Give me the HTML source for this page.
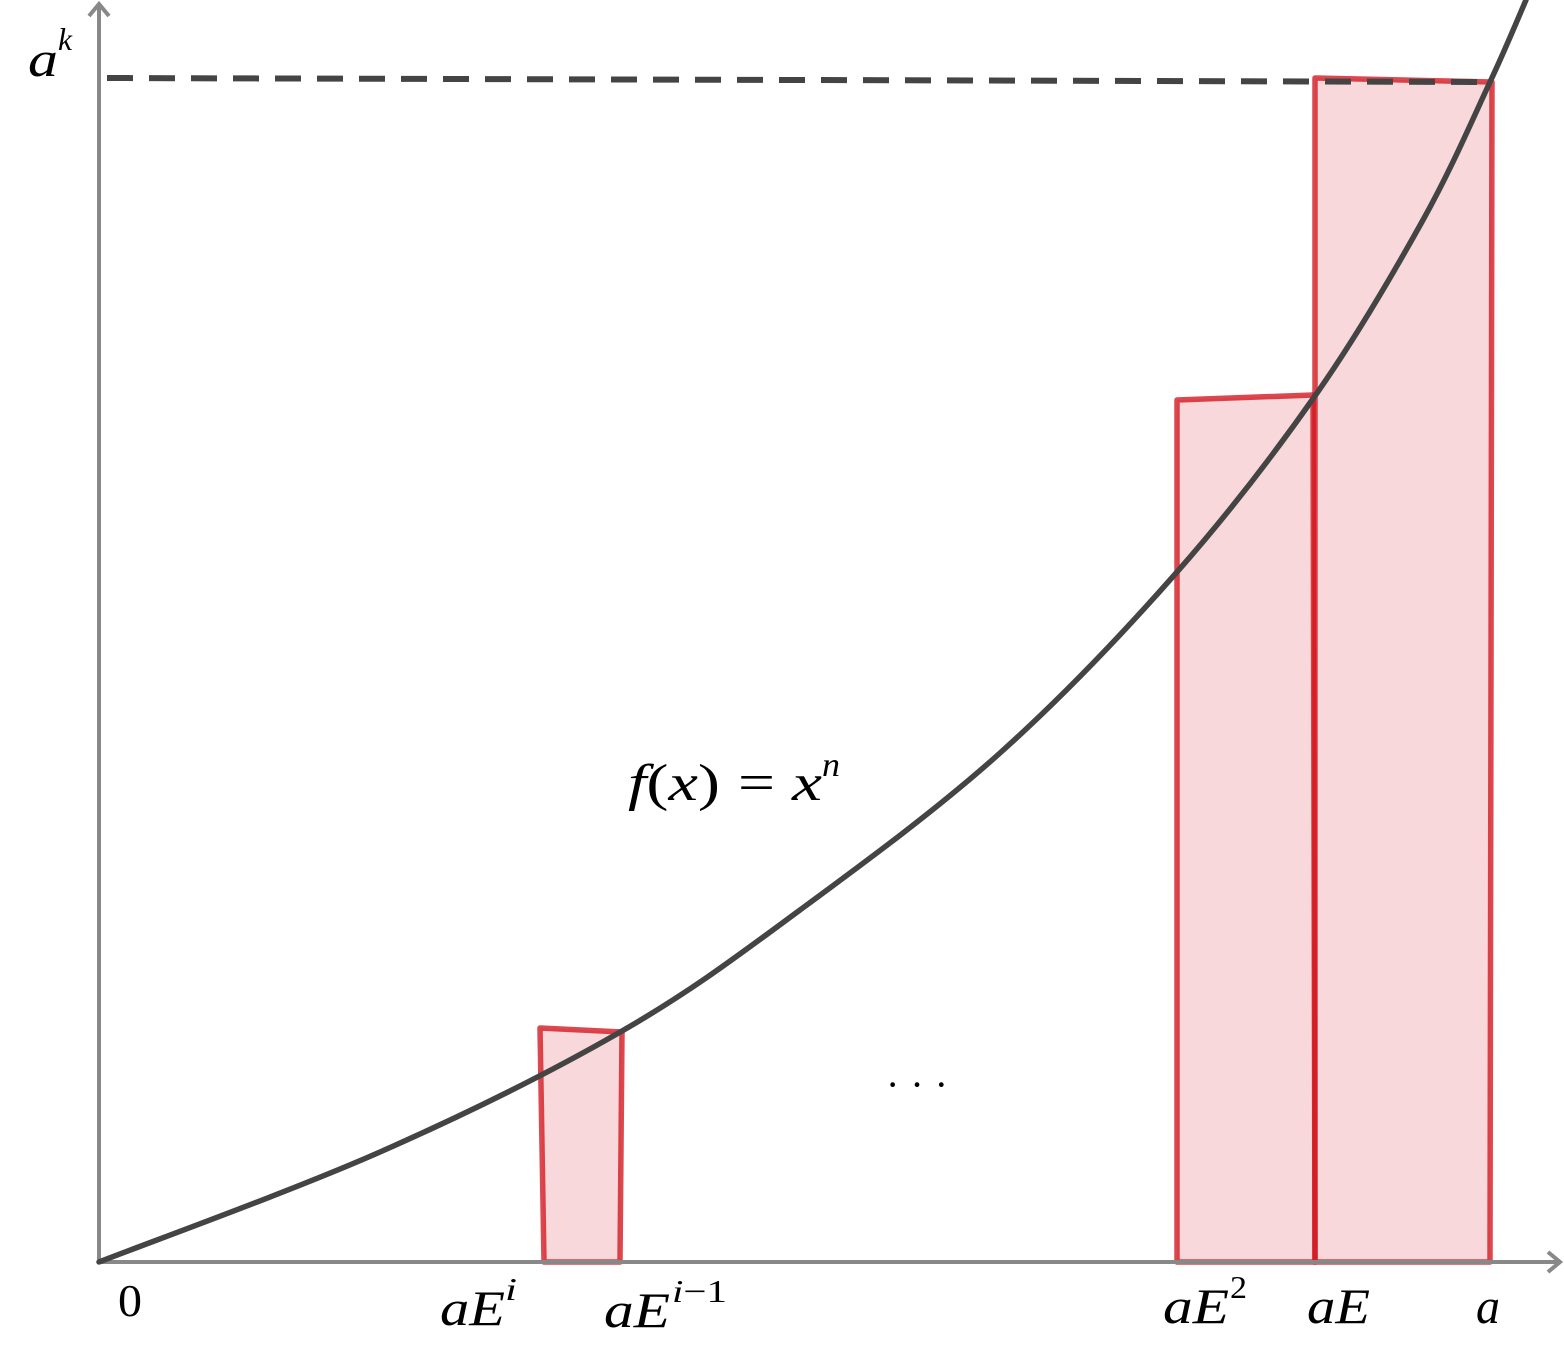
<!DOCTYPE html>
<html><head><meta charset="utf-8"><style>
html,body{margin:0;padding:0;background:#fff}
svg{display:block}
text{font-family:"Liberation Serif",serif;font-style:italic;fill:#000}
</style></head><body>
<svg width="1564" height="1356" viewBox="0 0 1564 1356">
<g id="rects"></g>
<line x1="99" y1="1262" x2="1558" y2="1262" stroke="#888" stroke-width="4"/>
<polyline points="1548,1252 1560,1262 1548,1272" fill="none" stroke="#888" stroke-width="4"/>
<line x1="99" y1="1262" x2="99" y2="6" stroke="#888" stroke-width="4"/>
<polyline points="89,16 99,4 109,16" fill="none" stroke="#888" stroke-width="4"/>
<line x1="107" y1="78" x2="1492" y2="82" stroke="#444" stroke-width="6" stroke-dasharray="26,16"/>
<path id="curve" fill="none" stroke="#444" stroke-width="5.5" stroke-linecap="round"/>
<g>
<text x="28" y="76" font-size="50" textLength="30" lengthAdjust="spacingAndGlyphs">a</text>
<text x="58" y="50" font-size="32" textLength="14" lengthAdjust="spacingAndGlyphs">k</text>
</g>
<text x="118" y="1316" font-size="46" style="font-style:normal" textLength="24" lengthAdjust="spacingAndGlyphs">0</text>
<g>
<text x="440" y="1325" font-size="50" textLength="65" lengthAdjust="spacingAndGlyphs">aE</text>
<text x="505" y="1300" font-size="32" textLength="12" lengthAdjust="spacingAndGlyphs">i</text>
</g>
<g>
<text x="604" y="1327" font-size="50" textLength="66" lengthAdjust="spacingAndGlyphs">aE</text>
<text x="672" y="1302" font-size="32" textLength="55" lengthAdjust="spacingAndGlyphs">i<tspan style="font-style:normal">−1</tspan></text>
</g>
<g>
<text x="1163" y="1323" font-size="50" textLength="66" lengthAdjust="spacingAndGlyphs">aE</text>
<text x="1230" y="1298" font-size="32" style="font-style:normal" textLength="17" lengthAdjust="spacingAndGlyphs">2</text>
</g>
<text x="1307" y="1323" font-size="50" textLength="63" lengthAdjust="spacingAndGlyphs">aE</text>
<text x="1476" y="1323" font-size="50" textLength="24" lengthAdjust="spacingAndGlyphs">a</text>
<g>
<text x="628" y="800" font-size="52" textLength="92" lengthAdjust="spacingAndGlyphs">f<tspan style="font-style:normal">(</tspan>x<tspan style="font-style:normal">)</tspan></text>
<text x="738" y="800" font-size="52" style="font-style:normal" textLength="37" lengthAdjust="spacingAndGlyphs">=</text>
<text x="792" y="800" font-size="52" textLength="30" lengthAdjust="spacingAndGlyphs">x</text>
<text x="822" y="776" font-size="34" textLength="18" lengthAdjust="spacingAndGlyphs">n</text>
</g>
<text x="886" y="1098" font-size="40" style="font-style:normal" textLength="62" lengthAdjust="spacing">· · ·</text>
</svg>
<script>
const curveX=[99,380,622,800,1000,1177,1317,1423,1490,1526];
const curveY=[1262,1152,1031,910,753,572,393,220,82,0];
const rectLeft=[[540,1028,544],[1177,400,1177],[1315,78,1315]];
const rectRight=[[622,1032,620],[1313,395,1315],[1492,82,1490]];
const baseY=1262;
let d=`M${curveX[0]},${curveY[0]}`;
for(let i=0;i<curveX.length-1;i++){
  const a=Math.max(i-1,0),j=Math.min(i+2,curveX.length-1);
  const p0=[curveX[a],curveY[a]],p1=[curveX[i],curveY[i]],p2=[curveX[i+1],curveY[i+1]],p3=[curveX[j],curveY[j]];
  const c1=[p1[0]+(p2[0]-p0[0])/6,p1[1]+(p2[1]-p0[1])/6];
  const c2=[p2[0]-(p3[0]-p1[0])/6,p2[1]-(p3[1]-p1[1])/6];
  d+=` C${c1[0]},${c1[1]} ${c2[0]},${c2[1]} ${p2[0]},${p2[1]}`;
}
document.getElementById('curve').setAttribute('d',d);
const g=document.getElementById('rects');
const ns='http://www.w3.org/2000/svg';
rectLeft.forEach((l,i)=>{
  const r=rectRight[i];
  const p=document.createElementNS(ns,'polygon');
  p.setAttribute('points',`${l[0]},${l[1]} ${r[0]},${r[1]} ${r[2]},${baseY} ${l[2]},${baseY}`);
  p.setAttribute('fill','rgba(220,60,70,0.2)');
  p.setAttribute('stroke','rgba(210,20,30,0.78)');
  p.setAttribute('stroke-width','5.5');
  p.setAttribute('stroke-linejoin','round');
  
  
  g.appendChild(p);
});
</script>
</body></html>
